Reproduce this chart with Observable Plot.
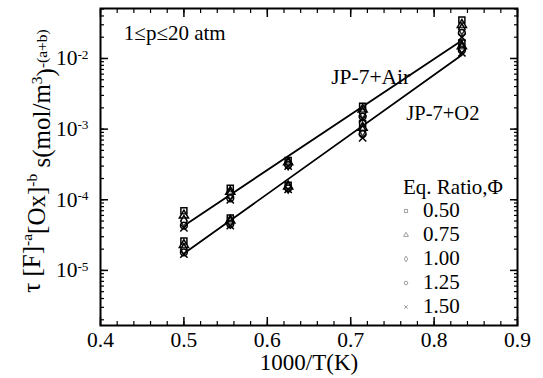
<!DOCTYPE html>
<html><head>
<meta charset="utf-8">
<script src="https://cdn.jsdelivr.net/npm/d3@7"></script>
<script src="https://cdn.jsdelivr.net/npm/@observablehq/plot@0.6"></script>
<style>
body{margin:0;background:#fff;}
svg{font-family:"Liberation Serif","DejaVu Serif",serif;}
</style>
</head><body><div id="chart"></div>
<script>
// 1000/T values (K^-1 * 1000)
const invTemps = [0.5, 0.5556, 0.625, 0.7143, 0.8333];
const phis = ["0.50", "0.75", "1.00", "1.25", "1.50"];
// JP-7 + Air : rows = phi, columns = invTemps
const airValues = [
  [7.0e-5, 1.45e-4, 3.6e-4, 2.1e-3, 3.5e-2],
  [6.0e-5, 1.30e-4, 3.4e-4, 1.9e-3, 3.0e-2],
  [5.0e-5, 1.20e-4, 3.2e-4, 1.7e-3, 2.6e-2],
  [4.3e-5, 1.05e-4, 3.1e-4, 1.5e-3, 2.3e-2],
  [4.0e-5, 1.00e-4, 3.0e-4, 1.4e-3, 2.0e-2]
];
// JP-7 + O2
const o2Values = [
  [2.6e-5, 5.5e-5, 1.60e-4, 1.20e-3, 1.65e-2],
  [2.3e-5, 5.1e-5, 1.55e-4, 1.05e-3, 1.50e-2],
  [2.0e-5, 4.8e-5, 1.50e-4, 0.95e-3, 1.40e-2],
  [1.8e-5, 4.5e-5, 1.45e-4, 0.85e-3, 1.30e-2],
  [1.7e-5, 4.3e-5, 1.40e-4, 0.75e-3, 1.20e-2]
];
// fitted correlation lines
const fitX = [0.5, 0.8333];
const airFit = [4.3e-5, 1.8e-2];
const o2Fit = [1.73e-5, 1.12e-2];
const xTicks = [0.4, 0.5, 0.6, 0.7, 0.8, 0.9];
const yTicks = [1e-5, 1e-4, 1e-3, 1e-2];

const points = [];
phis.forEach((p, i) => invTemps.forEach((t, j) => {
  points.push({x: t, y: airValues[i][j], phi: p, fuel: "Air"});
  points.push({x: t, y: o2Values[i][j], phi: p, fuel: "O2"});
}));
const airLine = fitX.map((x, i) => ({x, y: airFit[i]}));
const o2Line = fitX.map((x, i) => ({x, y: o2Fit[i]}));

const xMinor = d3.range(0.4, 0.9001, 0.02).map(v => +v.toFixed(2));
const yMinor = [];
for (let e = -6; e <= -2; e++) for (let m = 1; m <= 9; m++) {
  const v = m * Math.pow(10, e);
  if (v >= 1.66e-6 && v <= 0.051) yMinor.push(v);
}
const blank = () => "";

const plot = Plot.plot({
  width: 543, height: 378,
  marginLeft: 100, marginRight: 26, marginTop: 8, marginBottom: 53,
  style: {fontFamily: '"Liberation Serif", serif', fontSize: "20px", background: "#fff", color: "#000"},
  x: {domain: [0.4, 0.9]},
  y: {type: "log", domain: [1.66e-6, 0.051]},
  symbol: {domain: phis, range: ["square", "triangle", "diamond", "circle", "times"]},
  marks: [
    // minor ticks (inward)
    Plot.axisX(xMinor, {anchor: "bottom", tickSize: -4, tickFormat: blank, label: null, strokeWidth: 1.2}),
    Plot.axisX(xMinor, {anchor: "top", tickSize: -4, tickFormat: blank, label: null, strokeWidth: 1.2}),
    Plot.axisY(yMinor, {anchor: "left", tickSize: -4, tickFormat: blank, label: null, strokeWidth: 1.2}),
    Plot.axisY(yMinor, {anchor: "right", tickSize: -4, tickFormat: blank, label: null, strokeWidth: 1.2}),
    // major ticks (inward)
    Plot.axisX(xTicks, {anchor: "bottom", tickSize: -8, tickFormat: blank, label: null, strokeWidth: 1.5}),
    Plot.axisX(xTicks, {anchor: "top", tickSize: -8, tickFormat: blank, label: null, strokeWidth: 1.5}),
    Plot.axisY(yTicks, {anchor: "left", tickSize: -8, tickFormat: blank, label: null, strokeWidth: 1.5}),
    Plot.axisY(yTicks, {anchor: "right", tickSize: -8, tickFormat: blank, label: null, strokeWidth: 1.5}),
    // tick labels
    Plot.axisX(xTicks, {anchor: "bottom", tickSize: 0, tickPadding: 6, tickFormat: d => d.toFixed(1),
      label: "1000/T(K)", labelAnchor: "center", labelArrow: "none", labelOffset: 44, fontSize: 21.5}),
    Plot.axisY(yTicks, {anchor: "left", tickSize: 0, tickPadding: 12,
      tickFormat: d => String(Math.round(Math.log10(d))), label: null, fontSize: 21.5}),
    Plot.line(airLine, {x: "x", y: "y", stroke: "black", strokeWidth: 1.8}),
    Plot.line(o2Line, {x: "x", y: "y", stroke: "black", strokeWidth: 1.8}),
    Plot.dot(points, {x: "x", y: "y", symbol: "phi", r: 3.4, stroke: "black", strokeWidth: 1.5, fill: "white", fillOpacity: 0.2}),
    Plot.text(["1≤p≤20 atm"], {x: 0.428, y: 0.0226, text: d => d, textAnchor: "start", fontSize: 21}),
    Plot.text(["JP-7+Air"], {x: 0.724, y: 5.4e-3, text: d => d, fontSize: 21.5}),
    Plot.text(["JP-7+O2"], {x: 0.8105, y: 1.66e-3, text: d => d, fontSize: 20.5}),
    Plot.frame({stroke: "black", strokeWidth: 2})
  ]
});

const svg = d3.select(plot);
// drop the empty labels of tick-only axes
svg.selectAll('g[aria-label$="tick label"] text').each(function() {
  if (d3.select(this).text() === "") d3.select(this).remove();
});
svg.selectAll('g[aria-label="x-axis label"] text').attr("font-size", 23);
// superscripted y tick labels
svg.selectAll('g[aria-label="y-axis tick label"] text').each(function() {
  const t = d3.select(this);
  const e = t.text();
  t.text(null);
  t.append("tspan").text("10");
  t.append("tspan").attr("dy", "-0.5em").attr("font-size", "0.62em").text(e.replace("−", "-"));
});

// y axis title with superscripts
const yt = svg.append("text")
  .attr("transform", "translate(40,161) rotate(-90)")
  .attr("text-anchor", "middle")
  .attr("font-size", 25)
  .attr("fill", "black");
yt.append("tspan").text("τ [F]");
yt.append("tspan").attr("dy", "-0.5em").attr("font-size", "0.62em").text("-a");
yt.append("tspan").attr("dy", "0.5em").text("[Ox]");
yt.append("tspan").attr("dy", "-0.5em").attr("font-size", "0.62em").text("-b");
yt.append("tspan").attr("dy", "0.5em").text(" s(mol/m");
yt.append("tspan").attr("dy", "-0.5em").attr("font-size", "0.62em").text("3");
yt.append("tspan").attr("dy", "0.5em").text(")");
yt.append("tspan").attr("dy", "-0.5em").attr("font-size", "0.62em").text("-(a+b)");

// legend
const lg = svg.append("g").attr("font-size", 21).attr("fill", "black").attr("text-anchor", "start");
lg.append("text").attr("x", 403).attr("y", 194).text("Eq. Ratio,Φ");
const symNames = [d3.symbolSquare, d3.symbolTriangle, d3.symbolDiamond, d3.symbolCircle, d3.symbolTimes];
phis.forEach((p, i) => {
  const y = 217 + i * 24;
  lg.append("path").attr("d", d3.symbol(symNames[i], 10)())
    .attr("transform", `translate(406,${y - 6})`).attr("fill", "none").attr("stroke", "#888").attr("stroke-width", 0.8);
  lg.append("text").attr("x", 423).attr("y", y).text(p);
});

document.getElementById("chart").append(plot);
</script>
</body></html>
